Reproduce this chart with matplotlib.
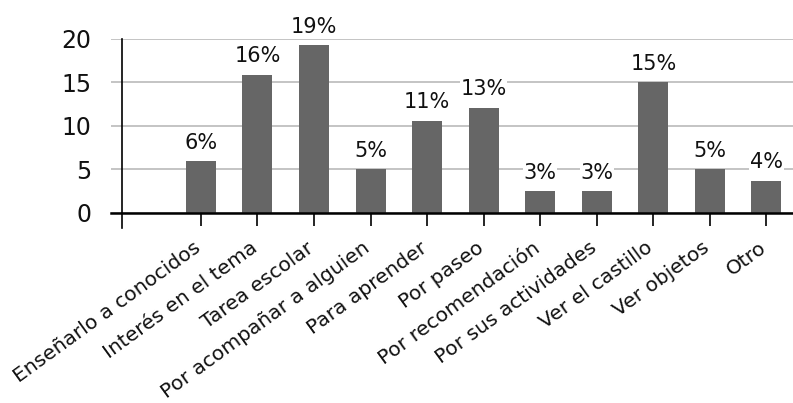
import matplotlib.pyplot as plt
import matplotlib.transforms as mtransforms
import numpy as np

categorias = ["Enseñarlo a conocidos", "Interés en el tema", "Tarea escolar",
              "Por acompañar a alguien", "Para aprender", "Por paseo",
              "Por recomendación", "Por sus actividades", "Ver el castillo",
              "Ver objetos", "Otro"]
valores = [5.95, 15.9, 19.3, 5.0, 10.6, 12.1, 2.5, 2.5, 15.0, 5.0, 3.7]
etiquetas = ["6%", "16%", "19%", "5%", "11%", "13%", "3%", "3%", "15%", "5%", "4%"]
y_ticks = [0, 5, 10, 15, 20]

plt.rcParams['font.family'] = ['DejaVu Sans']

fig = plt.figure(figsize=(7.93, 4.03), dpi=100)
ax = fig.add_axes([111 / 793, 190.3 / 403, 1 - 111 / 793, 173.7 / 403])

x = np.arange(len(categorias))
ax.bar(x, valores, width=0.53, color="#666666", zorder=3)

# etiquetas de datos
for xi, v, t in zip(x, valores, etiquetas):
    ax.annotate(t, (xi, v), xytext=(0, 6), textcoords="offset points",
                ha="center", va="bottom", fontsize=15, color="#111111",
                bbox=dict(facecolor="white", edgecolor="none", pad=0.5), zorder=4)

ax.set_xlim(-1.59, 10.47)
ax.set_ylim(0, 20)
ax.set_yticks(y_ticks)
ax.tick_params(axis="y", length=0, pad=14, labelsize=17, labelcolor="#111111")
ax.yaxis.grid(True, color="#bfbfbf", linewidth=1.3, zorder=0)

ax.set_xticks(x)
ax.set_xticklabels(categorias, rotation=36, ha="right", va="top",
                   rotation_mode="anchor", fontsize=14.5, color="#111111")
ax.tick_params(axis="x", length=9.5, width=1.2, direction="out", pad=6)
# desplazar un poco las etiquetas rotadas hacia la izquierda y abajo
desplaza = mtransforms.ScaledTranslation(-8 / 100, -4 / 100, fig.dpi_scale_trans)
for lbl in ax.get_xticklabels():
    lbl.set_transform(lbl.get_transform() + desplaza)

for s in ["left", "right", "top"]:
    ax.spines[s].set_visible(False)
ax.spines["bottom"].set_linewidth(1.8)
ax.spines["bottom"].set_zorder(5)

# eje vertical que cruza por debajo del eje horizontal
ax.plot([-1.40, -1.40], [-0.088, 1.0], color="black", linewidth=1.2,
        transform=ax.get_xaxis_transform(), clip_on=False, zorder=5)

fig.savefig("out.png", dpi=100)
